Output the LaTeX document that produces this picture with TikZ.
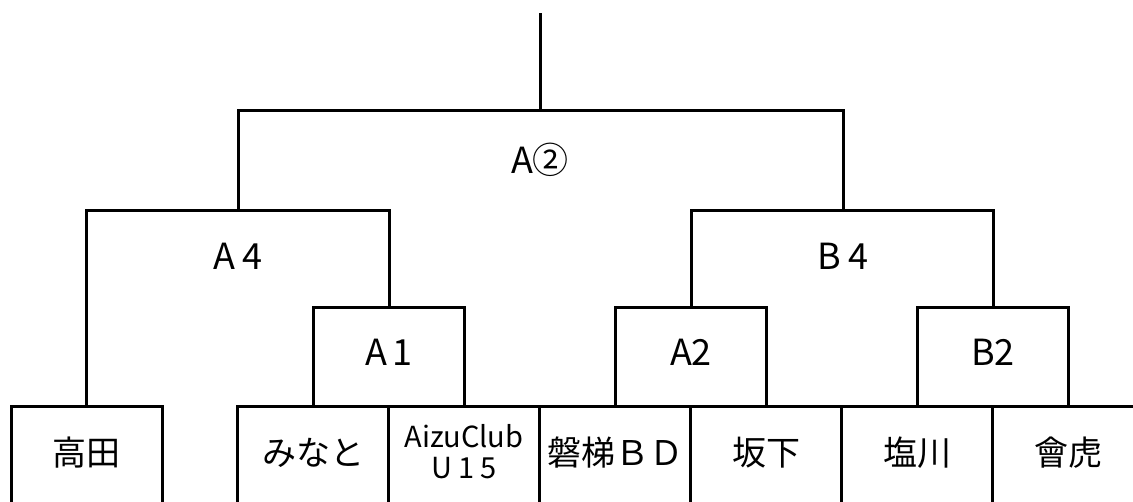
\documentclass[tikz,border=0pt]{standalone}
\usepackage{fontspec}
\setmainfont{Noto Sans CJK JP}
\usetikzlibrary{positioning}

\begin{document}
\begin{tikzpicture}[x=1pt,y=-1pt,line width=3pt,
    box/.style={draw,minimum width=151pt,inner sep=0pt,outer sep=0pt},
    lift/.style={text height=24pt,text depth=8pt},
    team/.style={box,lift,minimum height=100pt,anchor=north,font=\fontsize{34}{40}\selectfont},
    seed/.style={box,lift,minimum height=99pt,anchor=north,font=\fontsize{36}{40}\selectfont},
    stage/.style={font=\fontsize{36}{40}\selectfont}]
    \useasboundingbox (0,0) rectangle (1133,502);
    \clip (0,0) rectangle (1133,502);

    % teams
    \node[team] (takada) at (86.5,407) {高田};
    \node[team] (minato) at (313,407) {みなと};
    \node[box,minimum height=100pt,anchor=north,align=center,text height=53pt,text depth=10pt,font=\fontsize{29}{31}\selectfont] (aizu) at (464,407) {AizuClub\\U\kern6pt1\kern6pt5};
    \node[team] (bandai) at (615,407) {磐梯ＢＤ};
    \node[team] (bange) at (766,407) {坂下};
    \node[team] (shiokawa) at (917,407) {塩川};
    \node[team] (aitora) at (1068,407) {會虎};

    % seeds
    \node[seed] (a1) at (389,308) {A\kern6pt1};
    \node[seed] (a2) at (691,308) {A2};
    \node[seed] (b2) at (993,308) {B2};

    % rounds
    \node[stage] (a4) at (238,256) {A\kern7pt4};
    \node[stage] (b4) at (843,256) {B\kern7pt4};
    \node[stage] (final) at (540,160) {A②};

    \coordinate (a4top) at (238,211);
    \coordinate (b4top) at (843,211);
    \coordinate (ftop) at (540,111);
    \coordinate (top) at (540,13);

    \draw (takada.north) |- (a4top) -| (a1.north);
    \draw (a2.north) |- (b4top) -| (b2.north);
    \draw (a4top) |- (ftop) -| (b4top);
    \draw (ftop) -- (top);
\end{tikzpicture}
\end{document}
